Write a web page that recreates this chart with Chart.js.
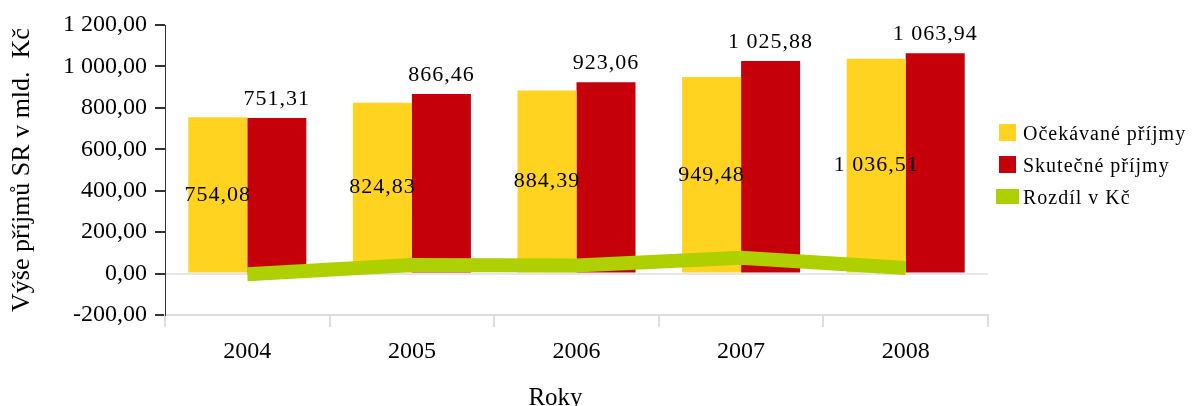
<!DOCTYPE html>
<html lang="cs">
<head>
    <meta charset="UTF-8">
    <title>Výše příjmů SR</title>
    <script src="https://cdn.jsdelivr.net/npm/chart.js"></script>
    <style>
        html, body { margin: 0; padding: 0; background: #fff; }
        canvas { display: block; }
    </style>
</head>
<body>
    <canvas id="chart" width="1192" height="406"></canvas>

    <script>
        // data (mld. Kč)
        const years = ['2004', '2005', '2006', '2007', '2008'];
        const expected = [754.08, 824.83, 884.39, 949.48, 1036.51];
        const actual = [751.31, 866.46, 923.06, 1025.88, 1063.94];
        const difference = [-2.77, 41.63, 38.67, 76.40, 27.43];
        const yTicks = [-200, 0, 200, 400, 600, 800, 1000, 1200];

        const FONT = 'Liberation Serif';

        // czech number format: 1 200,00
        function fmt(v) {
            var parts = Math.abs(v).toFixed(2).split('.');
            var whole = parts[0].replace(/\B(?=(\d{3})+(?!\d))/g, ' ');
            return (v < 0 ? '-' : '') + whole + ',' + parts[1];
        }

        // value labels on the bars
        const barLabels = {
            id: 'barLabels',
            afterDatasetsDraw(chart) {
                var ctx = chart.ctx;
                ctx.save();
                ctx.font = '22px "' + FONT + '"';
                ctx.fillStyle = '#000';
                ctx.textAlign = 'center';
                ctx.textBaseline = 'middle';
                ctx.letterSpacing = '1px';
                [0, 1].forEach(function(di) {
                    var meta = chart.getDatasetMeta(di);
                    var values = chart.data.datasets[di].data;
                    meta.data.forEach(function(bar, i) {
                        var y = di === 0 ? (bar.y + bar.base) / 2 : bar.y - 19;
                        ctx.fillText(fmt(values[i]), bar.x, y);
                    });
                });
                ctx.restore();
            }
        };

        // legend on the right + x axis title (sits a bit left of centre in the original)
        const extras = {
            id: 'extras',
            afterDraw(chart) {
                var ctx = chart.ctx;
                var area = chart.chartArea;
                ctx.save();
                ctx.font = '20px "' + FONT + '"';
                ctx.letterSpacing = '1px';
                ctx.textBaseline = 'middle';
                chart.data.datasets.forEach(function(ds, k) {
                    var cy = 132 + k * 32;
                    if (ds.type === 'line') {
                        ctx.fillStyle = ds.borderColor;
                        ctx.fillRect(996, cy - 7, 23, 15);
                    } else {
                        ctx.fillStyle = ds.backgroundColor;
                        ctx.fillRect(999, cy - 8, 17, 17);
                    }
                    ctx.fillStyle = '#000';
                    ctx.fillText(ds.label, 1023, cy + 3);
                });

                ctx.letterSpacing = '0px';
                ctx.font = '25px "' + FONT + '"';
                ctx.textAlign = 'center';
                ctx.textBaseline = 'alphabetic';
                ctx.fillText('Roky', (area.left + area.right) / 2 - 21, 405);
                ctx.restore();
            }
        };

        var ctx = document.getElementById('chart').getContext('2d');
        var chart = new Chart(ctx, {
            type: 'bar',
            data: {
                labels: years,
                datasets: [{
                    label: 'Očekávané příjmy',
                    data: expected,
                    backgroundColor: '#FFD320',
                    categoryPercentage: 0.717,
                    barPercentage: 1,
                    order: 2
                }, {
                    label: 'Skutečné příjmy',
                    data: actual,
                    backgroundColor: '#C5000B',
                    categoryPercentage: 0.717,
                    barPercentage: 1,
                    order: 2
                }, {
                    type: 'line',
                    label: 'Rozdíl v Kč',
                    data: difference,
                    borderColor: '#AECF00',
                    backgroundColor: '#AECF00',
                    borderWidth: 14,
                    pointRadius: 0,
                    tension: 0,
                    order: 0
                }]
            },
            options: {
                responsive: false,
                animation: false,
                devicePixelRatio: 1,
                layout: { padding: { top: 25, right: 204, left: 0, bottom: 0 } },
                plugins: {
                    legend: { display: false },
                    tooltip: { enabled: false }
                },
                scales: {
                    x: {
                        afterFit: function(scale) { scale.height = 91; },
                        grid: {
                            offset: true,
                            drawOnChartArea: false,
                            tickLength: 12,
                            tickColor: '#dddddd',
                            lineWidth: 2
                        },
                        border: { color: '#dddddd', width: 2 },
                        ticks: {
                            color: '#000',
                            padding: 10,
                            font: { family: FONT, size: 24 }
                        }
                    },
                    y: {
                        min: -200,
                        max: 1200,
                        afterFit: function(scale) { scale.width = 165; },
                        afterBuildTicks: function(scale) {
                            scale.ticks = yTicks.map(function(v) { return { value: v }; });
                        },
                        grid: {
                            color: function(c) {
                                return c.tick && c.tick.value === 0 ? '#e6e6e6' : 'rgba(0,0,0,0)';
                            },
                            lineWidth: 2,
                            tickLength: 10,
                            tickColor: '#333333'
                        },
                        border: { color: '#333333', width: 1 },
                        ticks: {
                            color: '#000',
                            padding: 8,
                            font: { family: FONT, size: 24 },
                            callback: function(v) { return fmt(v); }
                        },
                        title: {
                            display: true,
                            text: 'Výše příjmů SR v mld.  Kč',
                            color: '#000',
                            padding: { top: 7, bottom: 0 },
                            font: { family: FONT, size: 26 }
                        }
                    }
                }
            },
            plugins: [barLabels, extras]
        });
    </script>
</body>
</html>
